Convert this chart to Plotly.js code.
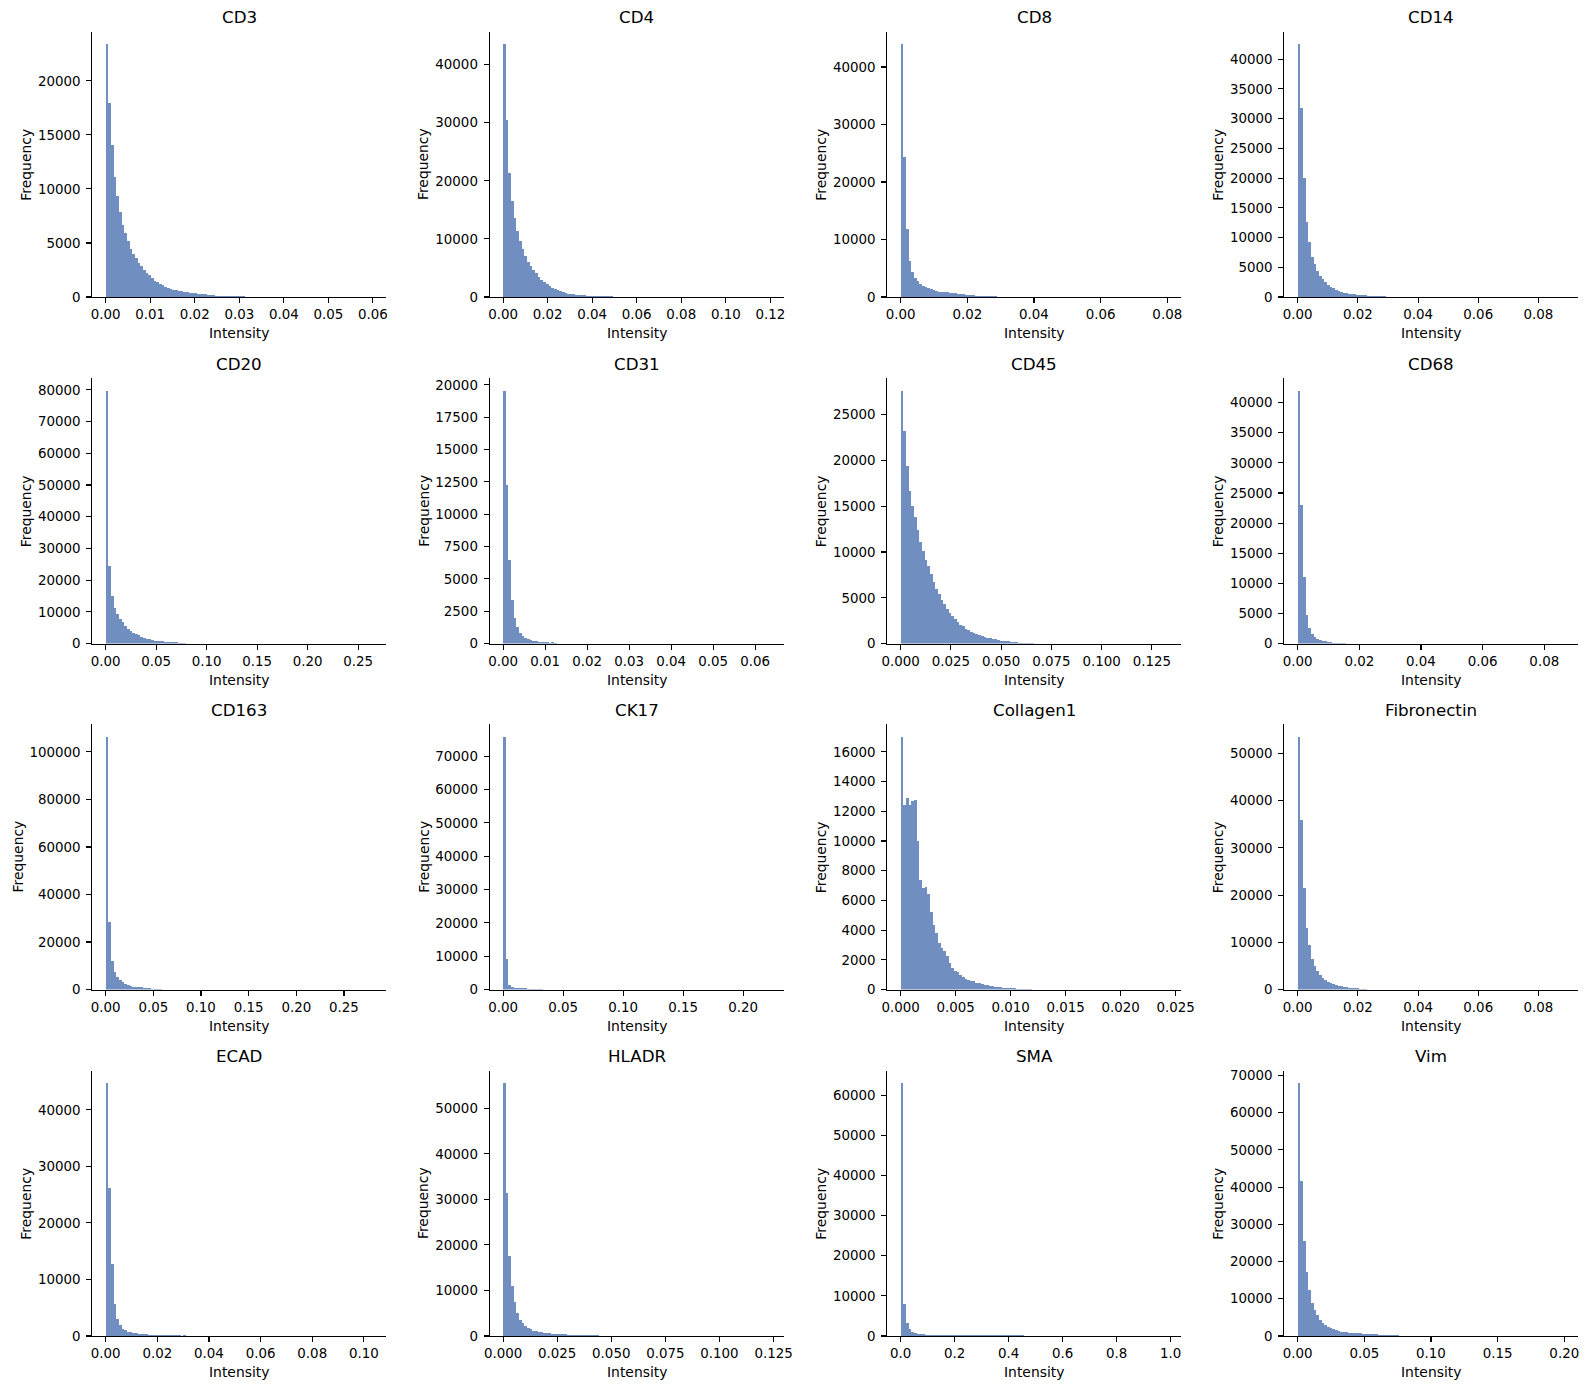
<!DOCTYPE html>
<html><head><meta charset="utf-8">
<script src="https://cdn.plot.ly/plotly-3.0.1.min.js"></script>
<style>html,body{margin:0;padding:0;background:#fff}</style>
</head><body><div id="chart" style="width:1588px;height:1389px"></div>
<script>
// ---------- DATA ----------
const markers = ["CD3","CD4","CD8","CD14","CD20","CD31","CD45","CD68","CD163","CK17","Collagen1","Fibronectin","ECAD","HLADR","SMA","Vim"];
// maximum observed intensity per marker (histogram spans 0..max in 100 bins)
const intensityMax = [0.0600,0.1200,0.0802,0.0888,0.2646,0.0636,0.1330,0.0867,0.2804,0.2227,0.0243,0.0888,0.1035,0.1235,0.9900,0.2005];
const nBins = 100;

const cd3Counts = [23380,17930,14050,11090,9330,7850,6650,5910,5170,4430,3970,3600,3140,2860,2490,2220,2030,1755,1480,1390,1200,1110,920,830,760,690,620,560,520,480,450,400,370,340,320,300,260,240,220,200,150,130,120,110,100,95,90,85,80,75,70,60,20,15,10,8,6,5,4,3,3,2,2,1,1,1];
const cd4Counts = [43490,30480,21320,16500,13580,11350,9630,8250,7050,6020,5330,4640,4130,3440,2920,2580,2230,1890,1550,1375,1200,1030,860,690,600,540,480,400,360,330,300,250,230,210,200,190,180,170,160,150,140,40,30,20,15,10,8,5,4,3];
const cd8Counts = [43950,24320,11810,6250,4340,3300,2780,2260,1910,1740,1560,1390,1220,1040,900,870,850,800,750,700,650,600,480,440,400,370,340,310,250,230,210,190,170,160,150,140,30,20,15,10,8,5,4,3,2];
const cd14Counts = [42500,31750,19990,12600,9240,6720,5540,4370,3530,3020,2520,2020,1680,1510,1180,1010,840,730,640,560,500,450,380,340,310,280,220,200,180,160,150,140,130,40,30,20,15,10,8,5];
const cd20Counts = [79650,24310,14880,11110,9220,7650,6710,5450,4510,3880,3250,2930,2620,1990,1680,1570,1360,1050,950,800,730,680,500,450,420,390,360,330,60,40,30,20,15,10,8,5,4,3,2,2];
const cd31Counts = [19530,12290,6500,3340,1950,1260,800,565,410,334,257,200,180,160,110,100,95,20,110,10,8,5,4,3,2];
const cd45Counts = [27590,23230,19420,16700,15060,13790,12450,11140,10160,9180,8420,7550,6680,5920,5370,4720,4280,3740,3300,2980,2650,2320,2000,1890,1560,1450,1230,1130,1020,910,800,690,580,580,470,470,360,330,250,250,230,150,150,200,110,110,100,100,20,15,10,8,5,4,3,2];
const cd68Counts = [41950,23070,10980,4690,2540,1550,1050,720,550,390,350,220,200,180,170,160,30,20,15,10,5,4,3,2];
const cd163Counts = [106280,28560,11840,7240,5150,3900,3060,2230,1810,1390,1250,1000,950,900,850,800,750,150,100,80,60,40,30,20,10,8,5,4,3,2];
const ck17Counts = [75800,9300,1300,700,600,500,450,400,350,300,150,100,80,60,40,30,20,10];
const collagen1Counts = [17000,12450,12860,12450,12660,12790,9980,7370,6840,6910,6440,5240,4370,3830,3160,2830,2630,2230,1760,1430,1230,1160,960,820,690,620,560,550,420,420,360,290,290,270,220,200,160,150,140,130,120,90,80,70,60,20,15,10,8,5,3,2];
const fibronectinCounts = [53500,36000,21500,13000,9500,6500,5000,4000,3000,2500,2000,1600,1300,1100,900,800,700,600,500,400,350,300,250,60,40,30,20,10];
const ecadCounts = [44690,26170,12760,5700,3060,2000,1290,1120,760,750,590,530,410,400,300,280,260,250,240,230,220,210,200,190,180,170,160,150,30,200,10,8,5,4,3,2];
const hladrCounts = [55500,31500,17500,11000,7500,5000,3500,2800,2200,1800,1500,1200,1000,900,800,700,600,550,500,450,400,380,350,330,300,280,260,240,220,200,180,160,150,140,130,120,30,20,10,5];
const smaCounts = [63000,8000,3200,1800,1000,700,500,400,380,360,340,320,300,300,280,280,260,260,250,250,240,240,230,230,220,220,210,210,200,200,200,190,190,180,180,170,170,160,160,150,150,150,140,140,130,130,120,120,110,110,100,100,90,90,80,80,70,70,60,60,50,40,30,20,10];
const vimCounts = [67870,41610,25540,17230,12410,8930,7050,5710,4380,3570,3040,2500,2230,1960,1700,1430,1160,1100,950,900,870,840,800,780,600,500,470,450,430,410,390,370,350,340,330,320,310,300,60,40,30,20,15,10,8,5,4,3];

const countsList = [cd3Counts,cd4Counts,cd8Counts,cd14Counts,cd20Counts,cd31Counts,cd45Counts,cd68Counts,cd163Counts,ck17Counts,collagen1Counts,fibronectinCounts,ecadCounts,hladrCounts,smaCounts,vimCounts];

// tick settings (axis labelling)
const xTickStep = [0.01,0.02,0.02,0.02,0.05,0.01,0.025,0.02,0.05,0.05,0.005,0.02,0.02,0.025,0.2,0.05];
const xTickFmt  = [".2f",".2f",".2f",".2f",".2f",".2f",".3f",".2f",".2f",".2f",".3f",".2f",".2f",".3f",".1f",".2f"];
const yTickStep = [5000,10000,10000,5000,10000,2500,5000,5000,20000,10000,2000,10000,10000,10000,10000,10000];

// ---------- LAYOUT ----------
const W = 1588, H = 1389;
const colLeft = [92.3, 489.7, 887.3, 1284.3];
const rowTop = [31.7, 378.3, 724.3, 1070.7];
const axW = 294, axH = 265.3;
const FONT = "DejaVu Sans, Liberation Sans, sans-serif";
const barColor = "rgb(112,142,192)";
const tickSize = 13.4;

const data = [];
const layout = {
  width: W, height: H,
  margin: {l:0, r:0, t:0, b:0},
  paper_bgcolor: "white", plot_bgcolor: "white",
  showlegend: false, bargap: 0,
  font: {family: FONT, size: 13.9, color: "black"},
  annotations: []
};

markers.forEach((name, k) => {
  const r = Math.floor(k / 4), c = k % 4;
  const n = k + 1;
  const xm = intensityMax[k];
  const bw = xm / nBins;
  const counts = countsList[k];
  const centers = counts.map((_, i) => (i + 0.5) * bw);
  data.push({
    type: "bar", x: centers, y: counts, width: bw,
    xaxis: "x" + n, yaxis: "y" + n,
    marker: {color: barColor, line: {width: 0}},
    hoverinfo: "x+y"
  });
  const ymax = Math.max(...counts) * 1.05;
  const x0 = colLeft[c] / W, x1 = (colLeft[c] + axW) / W;
  const yTopP = 1 - rowTop[r] / H, yBotP = 1 - (rowTop[r] + axH) / H;
  const common = {
    showline: true, linecolor: "black", linewidth: 1.1,
    ticks: "outside", ticklen: 5, tickwidth: 1.1, tickcolor: "black",
    showgrid: false, zeroline: false, automargin: false,
    tickfont: {family: FONT, size: tickSize, color: "black"}, fixedrange: true
  };
  layout["xaxis" + n] = Object.assign({}, common, {
    domain: [x0, x1], anchor: "y" + n,
    range: [-0.05 * xm, 1.05 * xm],
    tick0: 0, dtick: xTickStep[k], tickformat: xTickFmt[k]
  });
  layout["yaxis" + n] = Object.assign({}, common, {
    domain: [yBotP, yTopP], anchor: "x" + n,
    range: [0, ymax], ticklabelstandoff: 3,
    tick0: 0, dtick: yTickStep[k], tickformat: "d"
  });
  const xc = (x0 + x1) / 2;
  // subplot title
  layout.annotations.push({
    text: name, xref: "paper", yref: "paper", x: xc, y: yTopP,
    xanchor: "center", yanchor: "middle", yshift: 14.5, showarrow: false,
    font: {family: FONT, size: 16.7, color: "black"}
  });
  // x label
  layout.annotations.push({
    text: "Intensity", xref: "paper", yref: "paper", x: xc, y: yBotP,
    xanchor: "center", yanchor: "middle", yshift: -36, showarrow: false,
    font: {family: FONT, size: 13.9, color: "black"}
  });
  // y label (offset depends on widest tick label)
  const widest = String(Math.floor(ymax / yTickStep[k]) * yTickStep[k]).length;
  layout.annotations.push({
    text: "Frequency", xref: "paper", yref: "paper", x: x0, y: (yTopP + yBotP) / 2,
    xanchor: "center", yanchor: "middle", xshift: -66 - 8.8 * (widest - 5),
    textangle: -90, showarrow: false,
    font: {family: FONT, size: 13.9, color: "black"}
  });
});

Plotly.newPlot("chart", data, layout, {staticPlot: true});
</script></body></html>
